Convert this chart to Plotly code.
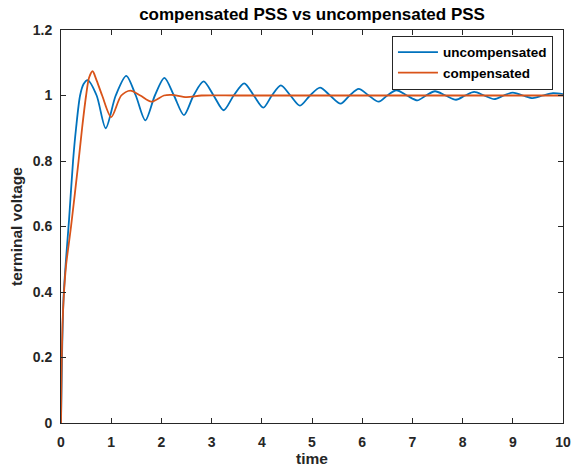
import plotly.graph_objects as go

# uncompensated PSS response
t_unc = [0, 0.02, 0.05, 0.1, 0.16, 0.24, 0.3, 0.38, 0.45, 0.53, 0.71, 0.89, 1.09, 1.30, 1.49, 1.68,
         1.87, 2.06, 2.25, 2.45, 2.64, 2.84, 3.04, 3.24, 3.44, 3.65, 3.84, 4.03, 4.2, 4.38, 4.57,
         4.76, 4.96, 5.16, 5.36, 5.57, 5.75, 5.93, 6.13, 6.33, 6.5, 6.68, 6.89, 7.10, 7.27, 7.45,
         7.66, 7.87, 8.05, 8.23, 8.43, 8.63, 8.82, 9.0, 9.2, 9.40, 9.6, 9.80, 10.0]
v_unc = [0, 0.2, 0.38, 0.5, 0.62, 0.8, 0.9, 1.0, 1.035, 1.047, 1.0, 0.90, 1.0, 1.060, 1.0, 0.924,
         1.0, 1.054, 1.0, 0.94, 1.0, 1.043, 1.0, 0.955, 1.0, 1.037, 1.0, 0.963, 1.0, 1.031, 1.0,
         0.969, 1.0, 1.024, 1.0, 0.975, 1.0, 1.020, 1.0, 0.981, 1.0, 1.016, 1.0, 0.985, 1.0, 1.013,
         1.0, 0.987, 1.0, 1.011, 1.0, 0.989, 1.0, 1.009, 1.0, 0.992, 1.0, 1.007, 1.004]

# compensated PSS response
t_cmp = [0, 0.01, 0.03, 0.06, 0.1, 0.2, 0.35, 0.42, 0.50, 0.56, 0.63, 0.70, 0.82, 1.0, 1.2, 1.38,
         1.58, 1.80, 2.05, 2.2, 2.5, 2.8, 3.5, 4.5, 5.5, 6.5, 7.5, 8.5, 9.5, 10.0]
v_cmp = [0, 0.15, 0.3, 0.4, 0.48, 0.6, 0.8, 0.9, 1.0, 1.055, 1.074, 1.05, 1.0, 0.934, 1.0, 1.015,
         1.0, 0.981, 1.0, 1.002, 0.995, 1.0, 1.0, 1.0, 1.0, 1.0, 1.0, 1.0, 1.0, 1.0]

x_ticks = [0, 1, 2, 3, 4, 5, 6, 7, 8, 9, 10]
y_ticks = [0, 0.2, 0.4, 0.6, 0.8, 1, 1.2]
y_tick_labels = ["0", "0.2", "0.4", "0.6", "0.8", "1", "1.2"]

FONT = "Liberation Sans, Arial, Helvetica, sans-serif"
AX = "#262626"

fig = go.Figure()
fig.add_trace(go.Scatter(x=t_unc, y=v_unc, mode="lines", name="uncompensated",
                         line=dict(color="#0072BD", width=1.8, shape="spline", smoothing=0.8)))
fig.add_trace(go.Scatter(x=t_cmp, y=v_cmp, mode="lines", name="compensated",
                         line=dict(color="#D95319", width=1.8, shape="spline", smoothing=0.8)))

axis_common = dict(showline=True, linecolor=AX, linewidth=1, mirror="ticks", ticks="inside",
                   ticklen=5, tickcolor=AX, showgrid=False, zeroline=False,
                   tickfont=dict(family=FONT, size=14, color=AX, weight="bold"))

fig.update_layout(
    width=571, height=469,
    margin=dict(l=61, r=8, t=30, b=46, autoexpand=False),
    paper_bgcolor="white", plot_bgcolor="white",
    title=dict(text="<b>compensated PSS vs uncompensated PSS</b>", x=0.5465, xanchor="center",
               yref="container", y=1 - 14 / 469, yanchor="middle",
               font=dict(family=FONT, size=17, color="black")),
    xaxis=dict(range=[0, 10], tickvals=x_ticks, ticktext=[str(v) for v in x_ticks],
               ticklabelstandoff=6,
               title=dict(text="<b>time</b>", standoff=2, font=dict(family=FONT, size=15.5, color=AX)),
               **axis_common),
    yaxis=dict(range=[0, 1.2], tickvals=y_ticks, ticktext=y_tick_labels,
               ticklabelstandoff=5,
               title=dict(text="<b>terminal voltage</b>", standoff=6, font=dict(family=FONT, size=15.5, color=AX)),
               **axis_common),
    legend=dict(x=0.98, y=0.985, xanchor="right", yanchor="top", bgcolor="white",
                bordercolor=AX, borderwidth=1, tracegroupgap=0, itemwidth=40,
                font=dict(family=FONT, size=13.5, color="black", weight="bold")),
    showlegend=True,
)

fig.write_html("out.html", config={"displayModeBar": False},
               post_script="document.body.style.margin='0px';")
